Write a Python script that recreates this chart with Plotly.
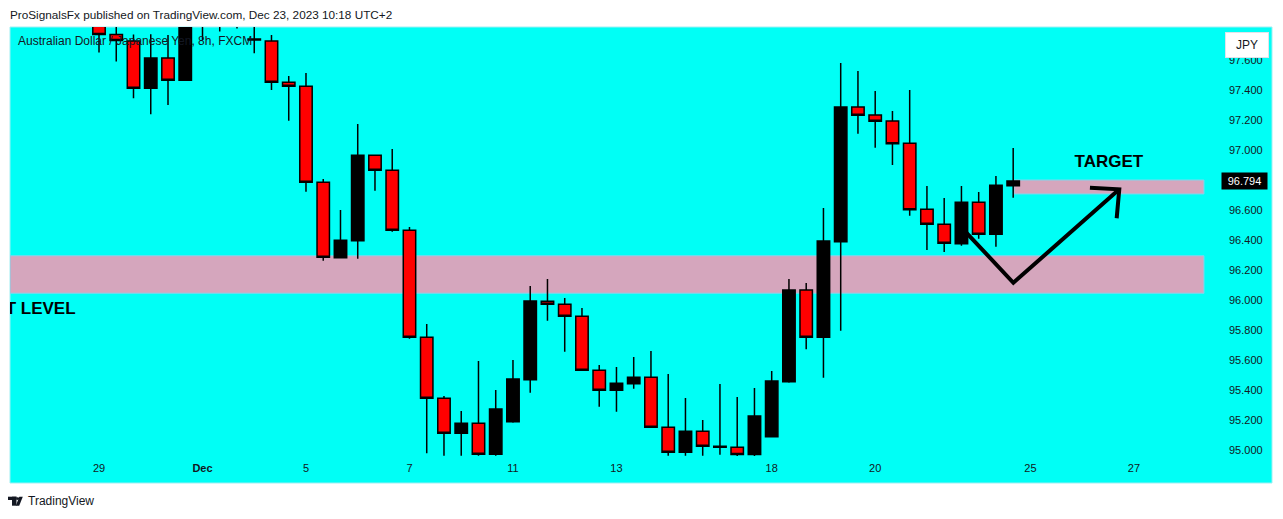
import plotly.graph_objects as go

# ---------------- data (8h bars, index 0 = Nov 29 00:00) ----------------
bar_index = list(range(54))
open_ = [97.90, 97.77, 97.727, 97.411, 97.613, 97.465, 97.95, 98.00, 97.92, 97.74,
         97.727, 97.451, 97.425, 96.785, 96.282, 96.395, 96.965, 96.865, 96.465, 95.751,
         95.345, 95.111, 95.178, 94.971, 95.189, 95.469, 95.991, 95.971, 95.891, 95.531,
         95.398, 95.442, 95.485, 95.151, 94.985, 95.125, 95.018, 95.018, 94.970, 95.089,
         95.455, 96.067, 95.751, 96.389, 97.287, 97.233, 97.193, 97.045, 96.605, 96.505,
         96.375, 96.651, 96.438, 96.762]
high_ = [97.95, 97.90, 97.77, 97.771, 97.767, 98.00, 98.10, 98.10, 97.98, 97.85,
         97.767, 97.493, 97.513, 96.807, 96.600, 97.173, 96.965, 97.007, 96.487, 95.840,
         95.360, 95.260, 95.593, 95.400, 95.600, 96.093, 96.140, 96.013, 95.947, 95.567,
         95.553, 95.620, 95.660, 95.507, 95.347, 95.200, 95.440, 95.353, 95.413, 95.527,
         96.140, 96.113, 96.613, 97.580, 97.527, 97.393, 97.260, 97.400, 96.760, 96.680,
         96.760, 96.720, 96.827, 97.013]
low_ = [97.65, 97.59, 97.345, 97.238, 97.300, 97.465, 97.733, 97.79, 97.81, 97.645,
        97.400, 97.195, 96.722, 96.262, 96.282, 96.275, 96.729, 96.455, 95.742, 94.978,
        94.962, 94.962, 94.962, 94.962, 95.182, 95.382, 95.862, 95.655, 95.531, 95.289,
        95.255, 95.409, 95.151, 94.962, 94.962, 94.962, 94.969, 94.960, 94.960, 95.089,
        95.449, 95.671, 95.482, 95.795, 97.109, 97.015, 96.900, 96.562, 96.333, 96.320,
        96.362, 96.409, 96.355, 96.682]
close_ = [97.77, 97.73, 97.411, 97.613, 97.465, 97.95, 98.00, 97.92, 97.84, 97.733,
          97.451, 97.425, 96.785, 96.285, 96.398, 96.965, 96.865, 96.465, 95.751, 95.345,
          95.111, 95.178, 94.971, 95.273, 95.473, 95.993, 95.971, 95.891, 95.531, 95.398,
          95.445, 95.485, 95.151, 94.985, 95.125, 95.025, 95.025, 94.970, 95.227, 95.460,
          96.067, 95.751, 96.393, 97.287, 97.231, 97.191, 97.042, 96.602, 96.505, 96.378,
          96.651, 96.438, 96.765, 96.794]

x_tick_index = [0, 6, 12, 18, 24, 30, 39, 45, 54, 60]
x_tick_labels = ["29", "<b>Dec</b>", "5", "7", "11", "13", "18", "20", "25", "27"]
y_tick_values = [95.0, 95.2, 95.4, 95.6, 95.8, 96.0, 96.2, 96.4, 96.6, 96.8, 97.0, 97.2, 97.4, 97.6]
last_price = 96.794

support_zone = [96.045, 96.295]          # price band
target_zone = [96.707, 96.800]
zone_right_index = 64.06
target_left_index = 53.04

arrow_path_x = [50.09, 53.01, 59.15]
arrow_path_y = [96.473, 96.115, 96.738]
arrow_head_x = [57.45, 59.15, 59.00]
arrow_head_y = [96.749, 96.738, 96.545]

# ---------------- geometry helpers ----------------
W, H = 1283, 519
PL, PR, PT, PB = 10, 1220, 27, 460
XR = [-5.16, 64.99]
YR = [94.9333, 97.82]


def px(x):
    return (x - PL) / (PR - PL)


def py(y):
    return (PB - y) / (PB - PT)


CYAN = "#00FFF6"
PINK = "#D5A6BD"
TXT = "#131722"

fig = go.Figure()
fig.add_trace(go.Candlestick(
    x=bar_index, open=open_, high=high_, low=low_, close=close_,
    increasing=dict(fillcolor="#000000", line=dict(color="#000000", width=1.5)),
    decreasing=dict(fillcolor="#FF0000", line=dict(color="#000000", width=1.5)),
    whiskerwidth=0, showlegend=False, hoverinfo="skip"))

fig.add_trace(go.Scatter(x=arrow_path_x, y=arrow_path_y, mode="lines",
                         line=dict(color="#000000", width=4), showlegend=False, hoverinfo="skip"))
fig.add_trace(go.Scatter(x=arrow_head_x, y=arrow_head_y, mode="lines",
                         line=dict(color="#000000", width=4), showlegend=False, hoverinfo="skip"))

fig.add_trace(go.Scatter(x=[58.55], y=[96.913], mode="text", text=["<b>TARGET</b>"],
                         textposition="middle center",
                         textfont=dict(family="Liberation Sans", size=17, color="#000000"),
                         showlegend=False, hoverinfo="skip", cliponaxis=True))
fig.add_trace(go.Scatter(x=[-1.36], y=[95.933], mode="text", text=["<b>SUPPORT LEVEL</b>"],
                         textposition="middle left",
                         textfont=dict(family="Liberation Sans", size=17, color="#000000"),
                         showlegend=False, hoverinfo="skip", cliponaxis=True))

shapes = [
    dict(type="rect", xref="paper", yref="paper", x0=0, x1=px(1272), y0=py(483), y1=1,
         fillcolor=CYAN, line=dict(color="#9EEFF3", width=1), layer="below"),
    dict(type="rect", xref="x", yref="y", x0=XR[0], x1=zone_right_index,
         y0=support_zone[0], y1=support_zone[1], fillcolor=PINK,
         line=dict(color="#7FD6EE", width=1), layer="below"),
    dict(type="rect", xref="x", yref="y", x0=target_left_index, x1=zone_right_index,
         y0=target_zone[0], y1=target_zone[1], fillcolor=PINK,
         line=dict(color="#7FD6EE", width=1), layer="below"),
    # TradingView logo
    dict(type="rect", xref="paper", yref="paper", x0=px(8), x1=px(16.5), y0=py(500), y1=py(496.7),
         fillcolor=TXT, line=dict(width=0)),
    dict(type="rect", xref="paper", yref="paper", x0=px(12), x1=px(16.5), y0=py(505.7), y1=py(496.7),
         fillcolor=TXT, line=dict(width=0)),
    dict(type="circle", xref="paper", yref="paper", x0=px(16.3), x1=px(19.1), y0=py(500), y1=py(497.2),
         fillcolor=TXT, line=dict(width=0)),
    dict(type="path", xref="paper", yref="paper",
         path=f"M {px(19.3)} {py(496.7)} L {px(22.8)} {py(496.7)} L {px(19.2)} {py(505.7)} L {px(15.8)} {py(505.7)} Z",
         fillcolor=TXT, line=dict(width=0)),
]

annotations = [
    dict(xref="paper", yref="paper", x=px(8), y=py(14), xanchor="left", yanchor="middle",
         text="ProSignalsFx published on TradingView.com, Dec 23, 2023 10:18 UTC+2",
         showarrow=False, font=dict(family="Liberation Sans", size=11.75, color=TXT)),
    dict(xref="paper", yref="paper", x=px(16), y=py(41), xanchor="left", yanchor="middle",
         text="Australian Dollar / Japanese Yen, 8h, FXCM",
         showarrow=False, font=dict(family="Liberation Sans", size=12, color=TXT)),
    dict(xref="paper", yref="paper", x=px(26), y=py(500.5), xanchor="left", yanchor="middle",
         text="TradingView", showarrow=False,
         font=dict(family="Liberation Sans", size=12, color=TXT)),
    dict(xref="paper", yref="y", x=px(1221), y=last_price, xanchor="left", yanchor="middle",
         text=f"{last_price:.3f}", showarrow=False, bgcolor="#000000", width=43, height=14,
         borderpad=1, font=dict(family="Liberation Sans", size=11, color="#FFFFFF")),
    dict(xref="paper", yref="paper", x=px(1225), y=py(45), xanchor="left", yanchor="middle",
         text="JPY", showarrow=False, bgcolor="#FFFFFF", bordercolor="#E0E3EB", borderwidth=1,
         width=40, height=22, borderpad=1,
         font=dict(family="Liberation Sans", size=12, color=TXT)),
]

fig.update_layout(
    width=W, height=H,
    margin=dict(l=PL, r=W - PR, t=PT, b=H - PB),
    paper_bgcolor="#FFFFFF", plot_bgcolor=CYAN,
    shapes=shapes, annotations=annotations,
    showlegend=False,
    boxgap=0.28, boxgroupgap=0,
    xaxis=dict(range=XR, rangeslider=dict(visible=False), showgrid=False, zeroline=False,
               tickmode="array", tickvals=x_tick_index, ticktext=x_tick_labels,
               ticks="", showline=False, fixedrange=True,
               tickfont=dict(family="Liberation Sans", size=11, color=TXT)),
    yaxis=dict(range=YR, side="right", showgrid=False, zeroline=False,
               tickmode="array", tickvals=y_tick_values,
               ticktext=[f"{v:.3f}" for v in y_tick_values],
               ticks="", showline=False, ticklabelstandoff=8, fixedrange=True,
               tickfont=dict(family="Liberation Sans", size=11, color=TXT)),
)

fig.write_html("out.html", config={"displayModeBar": False, "staticPlot": True},
               post_script="document.body.style.margin='0';document.body.style.overflow='hidden';")
